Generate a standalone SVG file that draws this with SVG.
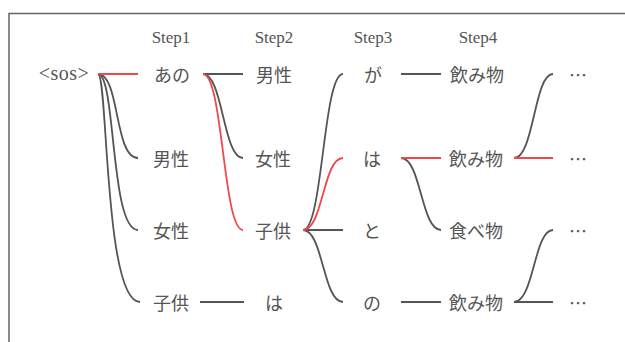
<svg xmlns="http://www.w3.org/2000/svg" width="625" height="342" viewBox="0 0 625 342">
<style>
.frame{fill:none;stroke:#666;stroke-width:1.5}
.g{fill:none;stroke:#555;stroke-width:1.8}
.r{fill:none;stroke:#f04848;stroke-width:1.8}
.step{font-family:"Liberation Serif",serif;font-size:17px;fill:#555;text-anchor:middle}
.w{font-family:"Liberation Serif",serif;font-size:20px;fill:#555;text-anchor:middle;dominant-baseline:central}
.j{font-family:"Noto Sans CJK JP",sans-serif;font-size:18px;fill:#555;text-anchor:middle;dominant-baseline:central}
</style>
<rect width="625" height="342" fill="#fff"/>
<path class="frame" d="M9,342 V13.5 H625"/>
<g id="steps">
<text class="step" x="171" y="43">Step1</text>
<text class="step" x="274" y="43">Step2</text>
<text class="step" x="373" y="43">Step3</text>
<text class="step" x="478" y="43">Step4</text>
</g>
<g id="connectors">
<path class="g" d="M98,74 C120,74 114,158 138,158"/>
<path class="g" d="M98,74 C116,74 110,230 138,230"/>
<path class="g" d="M98,74 C108,74 104,302 140,302"/>
<path class="r" d="M98,74 H138"/>
<path class="g" d="M203,74 H243"/>
<path class="g" d="M203,74 C223,74 223,158 243,158"/>
<path class="r" d="M203,74 C223,74 223,230 243,230"/>
<path class="g" d="M200,302 H244"/>
<path class="g" d="M303,230 C323,230 323,74 343,74"/>
<path class="g" d="M303,230 H343"/>
<path class="g" d="M303,230 C323,230 323,302 343,302"/>
<path class="r" d="M303,230 C323,230 323,158 343,158"/>
<path class="g" d="M401,74 H441"/>
<path class="g" d="M401,158 C421,158 421,230 441,230"/>
<path class="r" d="M401,158 H441"/>
<path class="g" d="M401,302 H441"/>
<path class="g" d="M514,158 C534,158 534,74 553,74"/>
<path class="r" d="M514,158 H553"/>
<path class="g" d="M514,302 C534,302 534,230 553,230"/>
<path class="g" d="M514,302 H553"/>
</g>
<g id="n-sos"><text class="w" x="64" y="73" letter-spacing="0.5">&lt;sos&gt;</text></g>
<g id="n1-1"><text class="j" x="172" y="74">あの</text></g>
<g id="n1-2"><text class="j" x="171" y="158">男性</text></g>
<g id="n1-3"><text class="j" x="171" y="230">女性</text></g>
<g id="n1-4"><text class="j" x="171" y="302">子供</text></g>
<g id="n2-1"><text class="j" x="274" y="74">男性</text></g>
<g id="n2-2"><text class="j" x="273" y="158">女性</text></g>
<g id="n2-3"><text class="j" x="273" y="230">子供</text></g>
<g id="n2-4"><text class="j" x="274" y="302">は</text></g>
<g id="n3-1"><text class="j" x="373" y="74">が</text></g>
<g id="n3-2"><text class="j" x="372" y="158">は</text></g>
<g id="n3-3"><text class="j" x="372" y="230">と</text></g>
<g id="n3-4"><text class="j" x="372" y="302">の</text></g>
<g id="n4-1"><text class="j" x="477" y="74">飲み物</text></g>
<g id="n4-2"><text class="j" x="476" y="158">飲み物</text></g>
<g id="n4-3"><text class="j" x="476" y="230">食べ物</text></g>
<g id="n4-4"><text class="j" x="476" y="302">飲み物</text></g>
<g id="n5-1"><text class="j" x="578" y="74">…</text></g>
<g id="n5-2"><text class="j" x="578" y="158">…</text></g>
<g id="n5-3"><text class="j" x="578" y="230">…</text></g>
<g id="n5-4"><text class="j" x="578" y="302">…</text></g>
</svg>
